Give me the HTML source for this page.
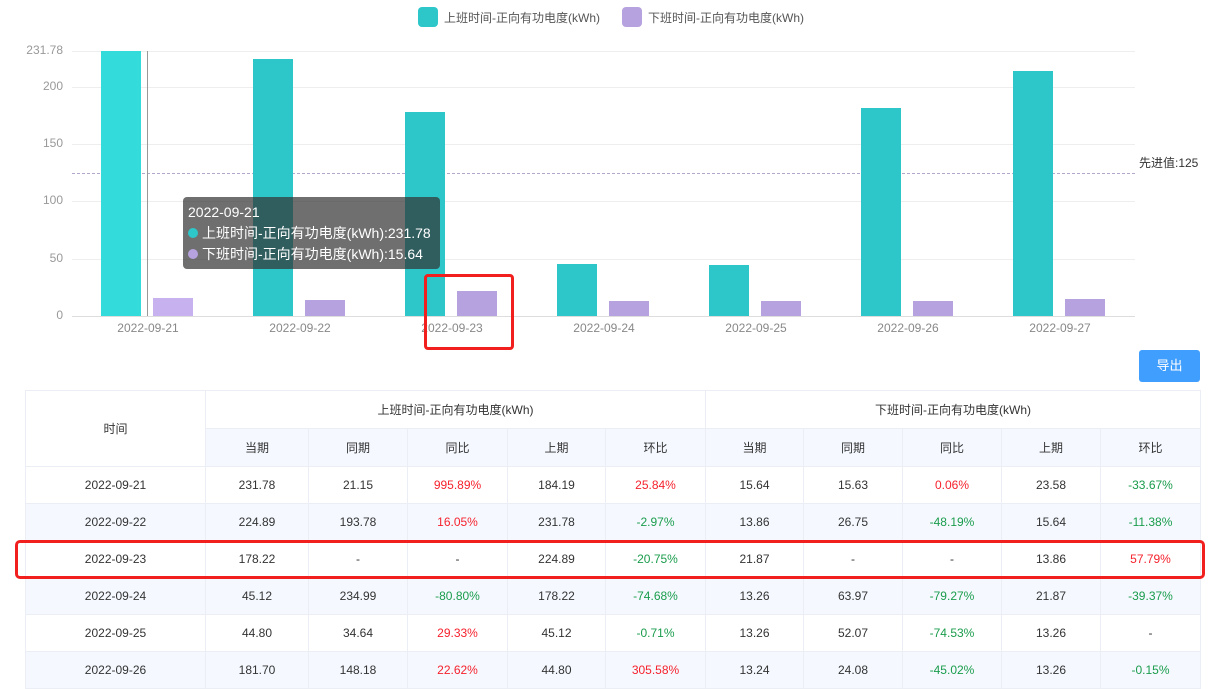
<!DOCTYPE html>
<html><head><meta charset="utf-8"><style>
body{margin:0;width:1229px;height:680px;overflow:hidden;background:#fff;font-family:"Liberation Sans","Noto Sans CJK SC",sans-serif;position:relative}
.a{position:absolute}
.yl{position:absolute;right:1166px;font-size:12px;color:#999;text-align:right}
.xl{position:absolute;font-size:12px;color:#888;width:100px;text-align:center;top:321px}
.g{position:absolute;left:72px;width:1063px;height:1px;background:#eee}
table{position:absolute;left:25px;top:390px;border-collapse:collapse;font-size:12px;color:#333;table-layout:fixed}
td{border:1px solid #ebeef5;text-align:center;height:36px;padding:0}
.h td{background:#fff}
.s td{background:#f5f9ff}
.r{color:#f5222d}.gr{color:#1a9c4c}
</style></head><body>
<div class="a" style="left:418px;top:7px;width:20px;height:20px;border-radius:4px;background:#2ec7c9"></div>
<div class="a" style="left:444px;top:9px;font-size:12px;color:#555">上班时间-正向有功电度(kWh)</div>
<div class="a" style="left:622px;top:7px;width:20px;height:20px;border-radius:4px;background:#b6a2de"></div>
<div class="a" style="left:648px;top:9px;font-size:12px;color:#555">下班时间-正向有功电度(kWh)</div>

<div class="g" style="top:51px"></div><div class="g" style="top:87px"></div><div class="g" style="top:144px"></div><div class="g" style="top:201px"></div><div class="g" style="top:259px"></div><div class="g" style="top:316px;background:#ddd"></div>
<div class="yl" style="top:43px">231.78</div><div class="yl" style="top:79px">200</div><div class="yl" style="top:136px">150</div><div class="yl" style="top:193px">100</div><div class="yl" style="top:251px">50</div><div class="yl" style="top:308px">0</div>
<div class="a" style="left:72px;top:173px;width:1063px;border-top:1px dashed #b3a8cc"></div>
<div class="a" style="left:1139px;top:154px;font-size:12px;color:#333">先进值:125</div>

<div class="a" style="left:101px;top:51px;width:40px;height:265px;background:#33dbdb"></div>
<div class="a" style="left:153px;top:298px;width:40px;height:18px;background:#c8b1ef"></div>
<div class="a" style="left:253px;top:59px;width:40px;height:257px;background:#2ec7c9"></div>
<div class="a" style="left:305px;top:300px;width:40px;height:16px;background:#b6a2de"></div>
<div class="a" style="left:405px;top:112px;width:40px;height:204px;background:#2ec7c9"></div>
<div class="a" style="left:457px;top:291px;width:40px;height:25px;background:#b6a2de"></div>
<div class="a" style="left:557px;top:264px;width:40px;height:52px;background:#2ec7c9"></div>
<div class="a" style="left:609px;top:301px;width:40px;height:15px;background:#b6a2de"></div>
<div class="a" style="left:709px;top:265px;width:40px;height:51px;background:#2ec7c9"></div>
<div class="a" style="left:761px;top:301px;width:40px;height:15px;background:#b6a2de"></div>
<div class="a" style="left:861px;top:108px;width:40px;height:208px;background:#2ec7c9"></div>
<div class="a" style="left:913px;top:301px;width:40px;height:15px;background:#b6a2de"></div>
<div class="a" style="left:1013px;top:71px;width:40px;height:245px;background:#2ec7c9"></div>
<div class="a" style="left:1065px;top:299px;width:40px;height:17px;background:#b6a2de"></div>
<div class="a" style="left:147px;top:51px;width:1px;height:265px;background:#999"></div>

<div class="xl" style="left:98px">2022-09-21</div><div class="xl" style="left:250px">2022-09-22</div><div class="xl" style="left:402px">2022-09-23</div><div class="xl" style="left:554px">2022-09-24</div><div class="xl" style="left:706px">2022-09-25</div><div class="xl" style="left:858px">2022-09-26</div><div class="xl" style="left:1010px">2022-09-27</div>

<div class="a" style="left:183px;top:197px;width:257px;height:72px;border-radius:4px;background:rgba(50,50,50,0.7);color:#fff;font-size:14px;line-height:21px;padding:5px 0 0 5px;box-sizing:border-box">
2022-09-21<br><span style="display:inline-block;width:10px;height:10px;border-radius:5px;background:#2ec7c9;margin-right:4px"></span>上班时间-正向有功电度(kWh):231.78<br><span style="display:inline-block;width:10px;height:10px;border-radius:5px;background:#b6a2de;margin-right:4px"></span>下班时间-正向有功电度(kWh):15.64</div>

<div class="a" style="left:424px;top:274px;width:84px;height:70px;border:3px solid #f21f1f;border-radius:4px"></div>
<div class="a" style="left:1139px;top:350px;width:61px;height:32px;background:#409eff;border-radius:3px;color:#fff;font-size:13px;line-height:32px;text-align:center">导出</div>

<table>
<colgroup><col style="width:180px"><col style="width:103px"><col style="width:99px"><col style="width:100px"><col style="width:98px"><col style="width:100px"><col style="width:98px"><col style="width:99px"><col style="width:99px"><col style="width:99px"><col style="width:100px"></colgroup>
<tr class="h"><td rowspan="2" style="height:75px">时间</td><td colspan="5">上班时间-正向有功电度(kWh)</td><td colspan="5">下班时间-正向有功电度(kWh)</td></tr>
<tr class="s"><td>当期</td><td>同期</td><td>同比</td><td>上期</td><td>环比</td><td>当期</td><td>同期</td><td>同比</td><td>上期</td><td>环比</td></tr>
<tr class="h"><td>2022-09-21</td><td>231.78</td><td>21.15</td><td class="r">995.89%</td><td>184.19</td><td class="r">25.84%</td><td>15.64</td><td>15.63</td><td class="r">0.06%</td><td>23.58</td><td class="gr">-33.67%</td></tr>
<tr class="s"><td>2022-09-22</td><td>224.89</td><td>193.78</td><td class="r">16.05%</td><td>231.78</td><td class="gr">-2.97%</td><td>13.86</td><td>26.75</td><td class="gr">-48.19%</td><td>15.64</td><td class="gr">-11.38%</td></tr>
<tr class="h"><td>2022-09-23</td><td>178.22</td><td>-</td><td>-</td><td>224.89</td><td class="gr">-20.75%</td><td>21.87</td><td>-</td><td>-</td><td>13.86</td><td class="r">57.79%</td></tr>
<tr class="s"><td>2022-09-24</td><td>45.12</td><td>234.99</td><td class="gr">-80.80%</td><td>178.22</td><td class="gr">-74.68%</td><td>13.26</td><td>63.97</td><td class="gr">-79.27%</td><td>21.87</td><td class="gr">-39.37%</td></tr>
<tr class="h"><td>2022-09-25</td><td>44.80</td><td>34.64</td><td class="r">29.33%</td><td>45.12</td><td class="gr">-0.71%</td><td>13.26</td><td>52.07</td><td class="gr">-74.53%</td><td>13.26</td><td>-</td></tr>
<tr class="s"><td>2022-09-26</td><td>181.70</td><td>148.18</td><td class="r">22.62%</td><td>44.80</td><td class="r">305.58%</td><td>13.24</td><td>24.08</td><td class="gr">-45.02%</td><td>13.26</td><td class="gr">-0.15%</td></tr>
</table>
<div class="a" style="left:15px;top:540px;width:1184px;height:33px;border:3px solid #f21f1f;border-radius:5px"></div>
</body></html>
